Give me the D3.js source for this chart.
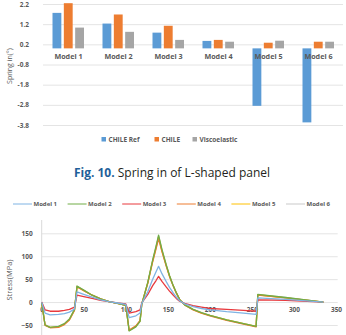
<!DOCTYPE html>
<html lang="en">
<head>
<meta charset="utf-8">
<script src="https://d3js.org/d3.v7.min.js"></script>
<style>
    body { margin: 0px; background-color: #ffffff; }
    text { font-family: "Open Sans", sans-serif; }
    .axis path { display: none; }
    .axis line { stroke: #e4e4e4; }
    .axis text { fill: #595959; font-weight: bold; }
</style>
</head>
<body>
<svg id="main" width="346" height="335"></svg>
<script>

// ---- bar chart data (spring in, degrees)
const models = ['Model 1', 'Model 2', 'Model 3', 'Model 4', 'Model 5', 'Model 6'];
const barKeys = ['CHILE Ref', 'CHILE', 'Viscoelastic'];
const chileRef = [1.76, 1.23, 0.78, 0.37, -2.85, -3.67];
const chile = [2.24, 1.68, 1.12, 0.42, 0.28, 0.33];
const viscoelastic = [1.03, 0.82, 0.42, 0.33, 0.38, 0.33];
const springTicks = [2.2, 1.2, 0.2, -0.8, -1.8, -2.8, -3.8];

// ---- line chart data (stress, MPa)
const timeX = [0, 4, 10, 20, 27, 33, 39, 42, 50, 60, 70, 80, 90, 100, 104, 112, 117, 119, 126, 132,
               136, 139, 143, 148, 152, 156, 160, 164, 170, 180, 190, 200, 220, 240, 255, 257, 290, 335];
const model1 = [0, -24, -28, -27, -25, -22, -15, 22, 17, 11, 5, 1, -2, -5, -34, -30, -24, -3, 22, 50,
                66, 78, 62, 45, 32, 21, 11, 3, -4, -10, -14, -17, -21, -24, -27, 9, 6, 0];
const model2 = [-2, -50, -55, -53, -47, -37, -16, 35, 26, 15, 7, 1, -3, -7, -63, -54, -42, -5, 42, 92,
                122, 146, 115, 82, 58, 38, 21, 6, -6, -16, -23, -29, -39, -47, -53, 17, 10, 0];
const model3 = [0, -17, -20, -20, -18, -16, -11, 15, 12, 8, 4, 1, -2, -4, -24, -21, -17, -2, 16, 36,
                47, 56, 45, 33, 24, 16, 8, 2, -3, -8, -11, -14, -16, -18, -20, 5, 4, 0];
const model4 = [-1, -51, -56, -55, -49, -39, -18, 33, 25, 15, 7, 1, -3, -7, -61, -52, -40, -4, 40, 88,
                116, 138, 110, 79, 56, 37, 20, 6, -6, -17, -24, -30, -40, -48, -54, 15, 9, 0];
const model5 = [-1, -50, -55, -54, -48, -38, -17, 34, 25, 15, 7, 1, -3, -7, -62, -53, -41, -4, 41, 90,
                119, 142, 112, 80, 57, 37, 20, 6, -6, -16, -24, -29, -39, -47, -53, 16, 9, 0];
const model6 = [-2, -49, -55, -53, -47, -37, -16, 34, 26, 15, 7, 1, -3, -7, -62, -53, -41, -5, 41, 91,
                120, 144, 113, 81, 57, 38, 21, 6, -6, -16, -23, -29, -39, -47, -53, 16, 10, 0];
const stressTicks = [-50, 0, 50, 100, 150];
const timeTicks = [0, 50, 100, 150, 200, 250, 300, 350];

let svg = d3.select('svg#main');
let grey = '#595959';

// ================= bar chart =================
let barColors = ['#5b9bd5', '#ed7d31', '#a5a5a5'];
let barValues = [chileRef, chile, viscoelastic];

let yBar = d3.scaleLinear().domain([-3.8, 2.2]).range([125, 4]);
let xBar = d3.scaleBand().domain(models).range([43, 343]);
let xInner = d3.scaleBand().domain(barKeys).range([9.5, 41]).paddingInner(0.22);

svg.append('g')
    .attr('class', 'axis')
    .attr('transform', 'translate(43,0)')
    .call(d3.axisLeft(yBar).tickValues(springTicks).tickSize(-300).tickPadding(14)
        .tickFormat(d => d.toFixed(1)))
    .selectAll('text').style('font-size', '6.5px');

barKeys.forEach(function (k, s) {
    svg.selectAll('.bar' + s)
        .data(barValues[s])
        .enter().append('rect')
        .attr('x', (d, i) => xBar(models[i]) + xInner(k))
        .attr('width', xInner.bandwidth())
        .attr('y', d => Math.min(yBar(d), yBar(0)))
        .attr('height', d => Math.abs(yBar(d) - yBar(0)))
        .attr('fill', barColors[s]);
});

svg.selectAll('.catLabel')
    .data(models)
    .enter().append('text')
    .attr('x', d => xBar(d) + xBar.bandwidth() / 2 + 0.5)
    .attr('y', 59)
    .attr('text-anchor', 'middle')
    .style('font-size', '7.2px').style('font-weight', 'bold').style('fill', grey)
    .text(d => d);

svg.append('text')
    .attr('transform', 'translate(12,66) rotate(-90)')
    .attr('text-anchor', 'middle')
    .style('font-size', '7px').style('fill', grey)
    .text('Spring in(°)');

// bar legend
let barLegX = [101.5, 154.5, 192.5];
let barLeg = svg.selectAll('.barLegend').data(barKeys)
    .enter().append('g')
    .attr('transform', (d, i) => 'translate(' + barLegX[i] + ',137)');
barLeg.append('rect').attr('width', 4.5).attr('height', 4.5)
    .attr('fill', (d, i) => barColors[i]);
barLeg.append('text').attr('x', 7).attr('y', 5)
    .style('font-size', '6.5px').style('font-weight', 'bold').style('fill', grey)
    .text(d => d);

// caption
let cap = svg.append('text')
    .attr('x', 172).attr('y', 177)
    .attr('text-anchor', 'middle')
    .style('font-size', '12px');
cap.append('tspan').style('font-weight', 'bold').style('fill', '#1f5f99').text('Fig. 10.');
cap.append('tspan').style('fill', '#231f20').text(' Spring in of L-shaped panel');

// ================= line chart =================
let lineNames = ['Model 1', 'Model 2', 'Model 3', 'Model 4', 'Model 5', 'Model 6'];
let lineColors = ['#7fb3e3', '#70ad47', '#e8393d', '#ed7d31', '#ffc000', '#c9c9c9'];
let lineValues = [model1, model2, model3, model4, model5, model6];

let xLine = d3.scaleLinear().domain([0, 350]).range([41.7, 336]);
let yLine = d3.scaleLinear().domain([-50, 150]).range([325, 233.3]);

svg.append('g')
    .attr('class', 'axis')
    .attr('transform', 'translate(41.7,0)')
    .call(d3.axisLeft(yLine).tickValues(stressTicks).tickSize(-296).tickPadding(9))
    .selectAll('text').style('font-size', '6.5px');

svg.append('line')
    .attr('x1', xLine(0)).attr('x2', xLine(0))
    .attr('y1', 220).attr('y2', 335)
    .attr('stroke', '#d9d9d9');

svg.append('g')
    .attr('class', 'axis')
    .attr('transform', 'translate(0,' + yLine(0) + ')')
    .call(d3.axisBottom(xLine).tickValues(timeTicks).tickSize(0).tickPadding(5))
    .selectAll('text').style('font-size', '6.5px');

let line = d3.line()
    .x((d, i) => xLine(timeX[i]))
    .y(d => yLine(d));

// draw last model first so Model 1 ends on top
for (let s = lineValues.length - 1; s >= 0; s--) {
    svg.append('path')
        .attr('d', line(lineValues[s]))
        .attr('fill', 'none')
        .attr('stroke', lineColors[s])
        .attr('stroke-width', 1.3)
        .attr('stroke-linejoin', 'round');
}

svg.append('text')
    .attr('transform', 'translate(12,280) rotate(-90)')
    .attr('text-anchor', 'middle')
    .style('font-size', '7.5px').style('fill', grey)
    .text('Stress(MPa)');

// line legend
let lineLeg = svg.selectAll('.lineLegend').data(lineNames)
    .enter().append('g')
    .attr('transform', (d, i) => 'translate(' + (13 + i * 54.6) + ',204)');
lineLeg.append('line').attr('x1', 0).attr('x2', 19)
    .attr('stroke', (d, i) => lineColors[i]).attr('stroke-width', 1);
lineLeg.append('text').attr('x', 20.5).attr('y', 2.2)
    .style('font-size', '6px').style('font-weight', 'bold').style('fill', grey)
    .text(d => d);

</script>
</body>
</html>
